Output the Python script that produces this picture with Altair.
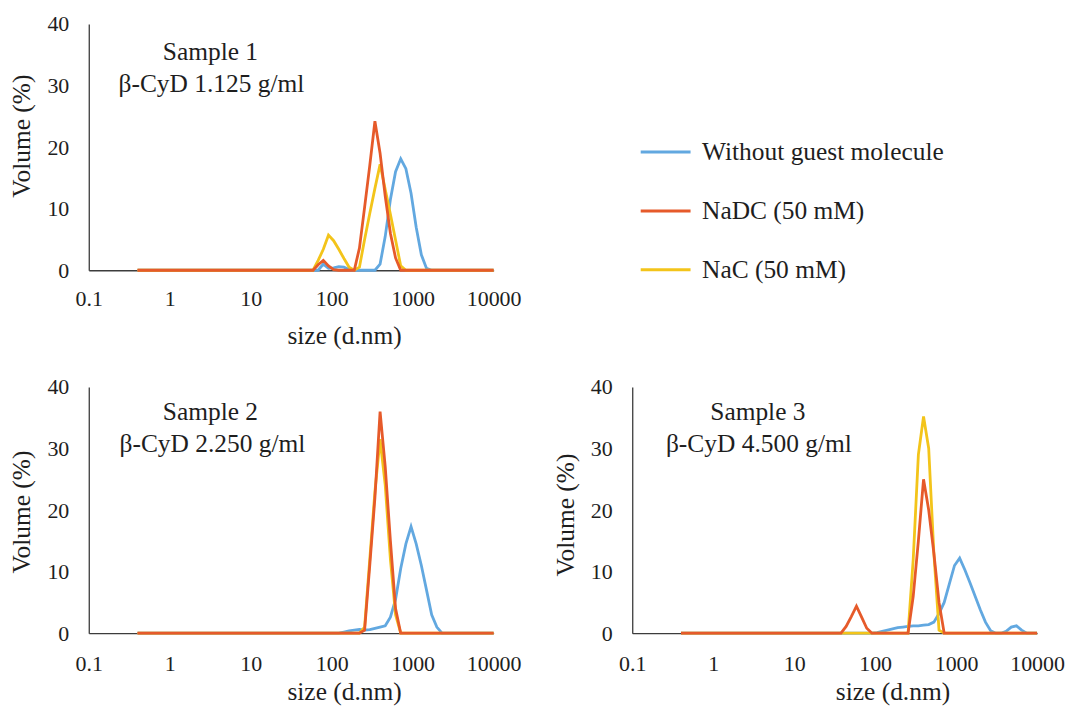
import altair as alt
import pandas as pd

# DLS size bins (d.nm)
sizes = [0.4, 0.4632, 0.5365, 0.6213, 0.7195, 0.8332, 0.9649, 1.117, 1.294, 1.499,
         1.736, 2.01, 2.328, 2.696, 3.122, 3.615, 4.187, 4.849, 5.615, 6.503,
         7.531, 8.721, 10.1, 11.7, 13.54, 15.69, 18.17, 21.04, 24.36, 28.21,
         32.67, 37.84, 43.82, 50.75, 58.77, 68.06, 78.82, 91.28, 105.7, 122.4,
         141.8, 164.2, 190.1, 220.2, 255.0, 295.3, 342.0, 396.1, 458.7, 531.2,
         615.1, 712.4, 825.0, 955.4, 1106, 1281, 1484, 1718, 1990, 2305,
         2669, 3091, 3580, 4145, 4801, 5560, 6439, 7456, 8635, 10000]

series_names = ["Without guest molecule", "NaDC (50 mM)", "NaC (50 mM)"]
series_colors = ["#62A8E0", "#E65A2A", "#F3C41A"]

# Sample 1 (beta-CyD 1.125 g/ml)
s1_without = [0, 0, 0, 0, 0, 0, 0, 0, 0, 0,
              0, 0, 0, 0, 0, 0, 0, 0, 0, 0,
              0, 0, 0, 0, 0, 0, 0, 0, 0, 0,
              0, 0, 0, 0, 0, 0, 1.0, 0.3, 0.4, 0.6,
              0.5, 0.1, 0, 0, 0, 0, 0, 1.0, 5.5, 11.5,
              16.0, 18.1, 16.5, 12.5, 7.0, 2.5, 0.3, 0, 0, 0,
              0, 0, 0, 0, 0, 0, 0, 0, 0, 0]
s1_nadc = [0, 0, 0, 0, 0, 0, 0, 0, 0, 0,
           0, 0, 0, 0, 0, 0, 0, 0, 0, 0,
           0, 0, 0, 0, 0, 0, 0, 0, 0, 0,
           0, 0, 0, 0, 0, 0.9, 1.6, 0.7, 0.1, 0,
           0, 0, 0, 3.6, 10.2, 17.0, 24.2, 19.0, 12.0, 6.0,
           2.0, 0, 0, 0, 0, 0, 0, 0, 0, 0,
           0, 0, 0, 0, 0, 0, 0, 0, 0, 0]
s1_nac = [0, 0, 0, 0, 0, 0, 0, 0, 0, 0,
          0, 0, 0, 0, 0, 0, 0, 0, 0, 0,
          0, 0, 0, 0, 0, 0, 0, 0, 0, 0,
          0, 0, 0, 0, 0, 1.6, 3.4, 5.7, 4.8, 3.4,
          1.9, 0.5, 0, 0.5, 5.0, 9.2, 13.3, 17.2, 13.1, 9.1,
          4.9, 0.7, 0, 0, 0, 0, 0, 0, 0, 0,
          0, 0, 0, 0, 0, 0, 0, 0, 0, 0]

# Sample 2 (beta-CyD 2.250 g/ml)
s2_without = [0, 0, 0, 0, 0, 0, 0, 0, 0, 0,
              0, 0, 0, 0, 0, 0, 0, 0, 0, 0,
              0, 0, 0, 0, 0, 0, 0, 0, 0, 0,
              0, 0, 0, 0, 0, 0, 0, 0, 0, 0,
              0.2, 0.4, 0.5, 0.6, 0.5, 0.6, 0.8, 1.0, 1.2, 2.6,
              5.5, 10.5, 14.5, 17.3, 14.5, 11.0, 7.0, 3.0, 1.0, 0,
              0, 0, 0, 0, 0, 0, 0, 0, 0, 0]
s2_nadc = [0, 0, 0, 0, 0, 0, 0, 0, 0, 0,
           0, 0, 0, 0, 0, 0, 0, 0, 0, 0,
           0, 0, 0, 0, 0, 0, 0, 0, 0, 0,
           0, 0, 0, 0, 0, 0, 0, 0, 0, 0,
           0, 0, 0, 0, 0.5, 11.0, 22.0, 36.0, 27.0, 15.0,
           4.0, 0, 0, 0, 0, 0, 0, 0, 0, 0,
           0, 0, 0, 0, 0, 0, 0, 0, 0, 0]
s2_nac = [0, 0, 0, 0, 0, 0, 0, 0, 0, 0,
          0, 0, 0, 0, 0, 0, 0, 0, 0, 0,
          0, 0, 0, 0, 0, 0, 0, 0, 0, 0,
          0, 0, 0, 0, 0, 0, 0, 0, 0, 0,
          0, 0, 0, 0, 1.0, 12.0, 23.0, 31.5, 24.0, 12.0,
          3.0, 0, 0, 0, 0, 0, 0, 0, 0, 0,
          0, 0, 0, 0, 0, 0, 0, 0, 0, 0]

# Sample 3 (beta-CyD 4.500 g/ml)
s3_without = [0, 0, 0, 0, 0, 0, 0, 0, 0, 0,
              0, 0, 0, 0, 0, 0, 0, 0, 0, 0,
              0, 0, 0, 0, 0, 0, 0, 0, 0, 0,
              0, 0, 0, 0, 0, 0, 0, 0, 0.1, 0.3,
              0.5, 0.7, 0.9, 1.0, 1.1, 1.2, 1.2, 1.3, 1.4, 1.8,
              3.2, 5.0, 8.0, 11.0, 12.2, 10.3, 8.2, 6.0, 3.8, 1.8,
              0.4, 0, 0, 0.3, 1.0, 1.2, 0.5, 0, 0, 0]
s3_nadc = [0, 0, 0, 0, 0, 0, 0, 0, 0, 0,
           0, 0, 0, 0, 0, 0, 0, 0, 0, 0,
           0, 0, 0, 0, 0, 0, 0, 0, 0, 0,
           0, 0, 1.1, 2.7, 4.4, 2.6, 0.8, 0, 0, 0,
           0, 0, 0, 0, 0, 6.0, 15.0, 25.0, 20.0, 13.0,
           5.0, 0, 0, 0, 0, 0, 0, 0, 0, 0,
           0, 0, 0, 0, 0, 0, 0, 0, 0, 0]
s3_nac = [0, 0, 0, 0, 0, 0, 0, 0, 0, 0,
          0, 0, 0, 0, 0, 0, 0, 0, 0, 0,
          0, 0, 0, 0, 0, 0, 0, 0, 0, 0,
          0, 0, 0, 0, 0, 0, 0, 0, 0, 0,
          0, 0, 0, 0, 0, 12.0, 29.0, 35.2, 30.0, 13.0,
          0.5, 0, 0, 0, 0, 0, 0, 0, 0, 0,
          0, 0, 0, 0, 0, 0, 0, 0, 0, 0]

x_ticks = [0.1, 1, 10, 100, 1000, 10000]
y_ticks = [0, 10, 20, 30, 40]

FONT = "Liberation Serif, Times New Roman, serif"
TXT = "#1e1e1e"
W, H = 406, 247


def make_df(without, nadc, nac):
    rows = []
    # drawing order: blue, yellow, orange (orange on top)
    for name, vals in [(series_names[0], without), (series_names[2], nac), (series_names[1], nadc)]:
        for s, v in zip(sizes, vals):
            rows.append({"size": s, "volume": v, "series": name})
    return pd.DataFrame(rows)


legend = alt.Legend(orient="none", legendX=552, legendY=102, title=None,
                    symbolType="stroke", symbolSize=2500, symbolStrokeWidth=3,
                    labelFont=FONT, labelFontSize=25.5, labelColor=TXT,
                    labelOffset=10, rowPadding=19, padding=0, labelLimit=400)


def panel(df, line1, line2, tx1, tx2, ty1, ty2, title_x, title_y, title_pad, label_pad):
    lines = alt.Chart(df).mark_line(strokeWidth=2.8).encode(
        x=alt.X("size:Q",
                scale=alt.Scale(type="log", domain=[0.1, 10000], nice=False),
                axis=alt.Axis(values=x_ticks, format="~g", title="size (d.nm)",
                              labelFlush=False, labelPadding=label_pad, labelOverlap=False,
                              titlePadding=title_pad, titleX=title_x,
                              minExtent=40, maxExtent=40)),
        y=alt.Y("volume:Q",
                scale=alt.Scale(domain=[0, 40], nice=False),
                axis=alt.Axis(values=y_ticks, title="Volume (%)", labelPadding=20,
                              titlePadding=12, titleY=title_y, minExtent=42, maxExtent=42)),
        color=alt.Color("series:N",
                        scale=alt.Scale(domain=series_names, range=series_colors),
                        legend=legend),
    )
    t1 = alt.Chart(pd.DataFrame({"t": [line1]})).mark_text(
        font=FONT, fontSize=25.5, align="center", baseline="alphabetic", color=TXT
    ).encode(x=alt.value(tx1), y=alt.value(ty1), text="t:N")
    t2 = alt.Chart(pd.DataFrame({"t": [line2]})).mark_text(
        font=FONT, fontSize=25.5, align="center", baseline="alphabetic", color=TXT
    ).encode(x=alt.value(tx2), y=alt.value(ty2), text="t:N")
    return alt.layer(lines, t1, t2).properties(width=W, height=H)


p1 = panel(make_df(s1_without, s1_nadc, s1_nac), "Sample 1", "\u03b2-CyD 1.125 g/ml",
           122, 123, 36, 68, 256, 112, 13, 18)
p2 = panel(make_df(s2_without, s2_nadc, s2_nac), "Sample 2", "\u03b2-CyD 2.250 g/ml",
           122, 124, 33, 65, 256, 125, 6, 20)
p3 = panel(make_df(s3_without, s3_nadc, s3_nac), "Sample 3", "\u03b2-CyD 4.500 g/ml",
           126, 127, 33, 65, 261, 128, 6, 20)

chart = alt.vconcat(
    p1,
    alt.hconcat(p2, p3, spacing=32),
    spacing=27,
).resolve_scale(color="shared").resolve_legend(color="shared").properties(
    padding={"left": 2, "top": 4, "right": 0, "bottom": 0}
).configure_view(stroke=None).configure_axis(
    grid=False, ticks=False, tickSize=0,
    domainColor="#3c3c3c", domainWidth=1.3,
    labelFont=FONT, labelFontSize=22, labelColor=TXT,
    titleFont=FONT, titleFontSize=25.5, titleFontWeight="normal", titleColor=TXT,
)

chart.save("out.html", embed_options={"renderer": "svg", "actions": False})
